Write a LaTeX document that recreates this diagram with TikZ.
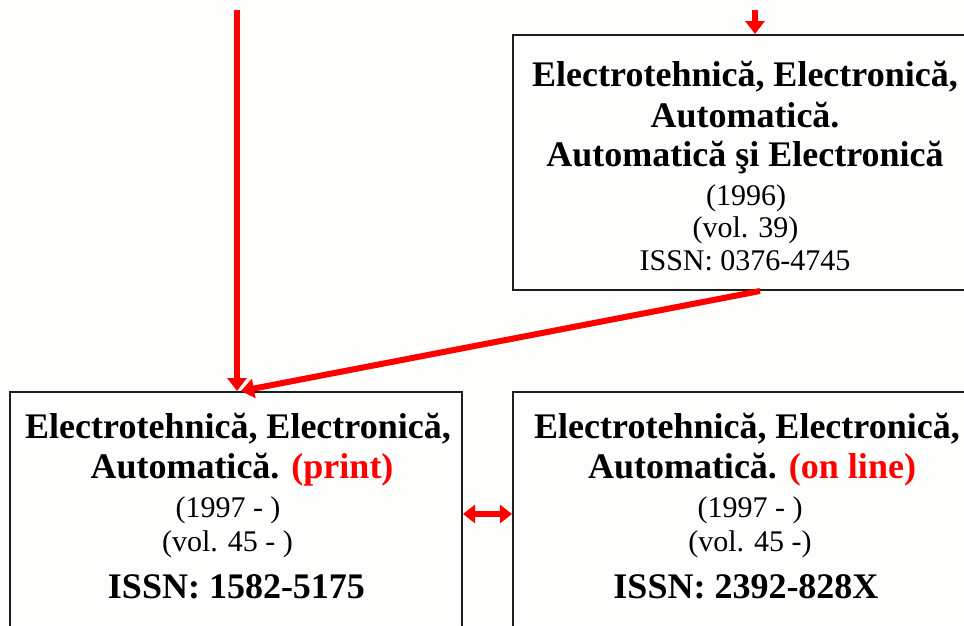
\documentclass[tikz,border=0pt]{standalone}
\usepackage{fontspec}
\setmainfont{Liberation Serif}
\usetikzlibrary{arrows.meta}
\definecolor{bg}{RGB}{253,253,251}
\definecolor{arr}{RGB}{255,0,0}
\definecolor{frame}{RGB}{30,30,30}
\begin{document}
\begin{tikzpicture}[x=1pt,y=-1pt,
  box/.style={draw=frame,line width=2pt,rectangle,inner sep=0pt},
  tbold/.style={font=\fontsize{36}{40}\selectfont\bfseries,anchor=base,inner sep=0pt},
  treg/.style={font=\fontsize{30}{33}\selectfont,anchor=base,inner sep=0pt},
  conn/.style={draw=arr,line width=6pt,-{Triangle[length=13pt,width=19pt]}},
  both/.style={draw=arr,line width=6pt,{Triangle[length=12pt,width=18pt]}-{Triangle[length=12pt,width=18pt]}}
  ]
\fill[bg] (0,0) rectangle (964,625);
\useasboundingbox (0,0) rectangle (964,625);
\clip (0,0) rectangle (964,625);

% boxes
\node[box,minimum width=464pt,minimum height=255pt] (tr) at (745,162.5) {};
\node[box,minimum width=452pt,minimum height=308pt] (bl) at (236,546) {};
\node[box,minimum width=466pt,minimum height=308pt] (br) at (746,546) {};

% top-right texts
\node[tbold] (tr1) at (745,86.7) {Electrotehnică, Electronică,};
\node[tbold] (tr2) at (745,127) {Automatică.};
\node[tbold] (tr3) at (745,166.7) {Automatică şi Electronică};
\node[treg] (tr4) at (746,205) {(1996)};
\node[treg] (tr5) at (745.5,237) {(vol. 39)};
\node[treg] (tr6) at (745,270) {ISSN: 0376-4745};

% bottom-left texts
\node[tbold] (bl1) at (238,438) {Electrotehnică, Electronică,};
\node[tbold] (bl2) at (242,478) {Automatică. \textcolor{arr}{(print)}};
\node[treg] (bl3) at (228,517) {(1997 - )};
\node[treg] (bl4) at (227.5,551.5) {(vol. 45 - )};
\node[tbold] (bl5) at (236.5,598) {ISSN: 1582-5175};

% bottom-right texts
\node[tbold] (br1) at (747,438) {Electrotehnică, Electronică,};
\node[tbold] (br2) at (752,478) {Automatică. \textcolor{arr}{(on line)}};
\node[treg] (br3) at (750,517) {(1997 - )};
\node[treg] (br4) at (750,551.5) {(vol. 45 -)};
\node[tbold] (br5) at (746,598) {ISSN: 2392-828X};

% connectors
\coordinate (s1) at (237,10);
\coordinate (s2) at (755,10);
\coordinate (mid) at (487,514);
\draw[conn] (s1) -- (s1 |- bl.north);
\draw[conn] (s2) -- (s2 |- tr.north);
\draw[conn] ([xshift=15pt]tr.south) -- ([xshift=5pt]bl.north);
\draw[both] (mid -| bl.east) -- (mid -| br.west);
\end{tikzpicture}
\end{document}
